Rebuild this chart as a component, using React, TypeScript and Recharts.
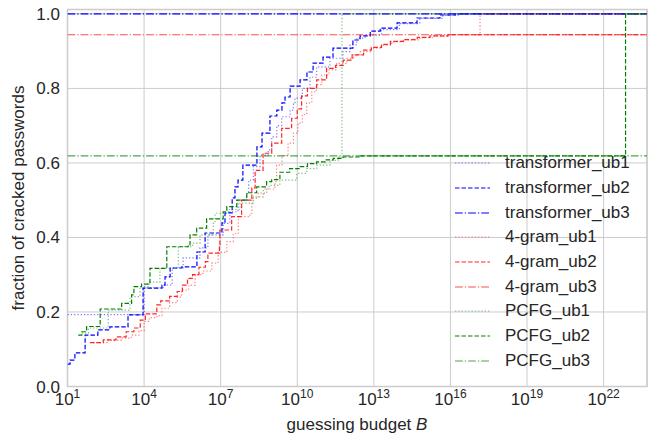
import React from "react";
import { LineChart, Line, XAxis, YAxis, CartesianGrid, ReferenceArea } from "recharts";

// x = log10(guessing budget), y = fraction of cracked passwords
const X_TICKS = [1, 4, 7, 10, 13, 16, 19, 22];
const Y_TICKS = [0, 0.2, 0.4, 0.6, 0.8, 1.0];

const transformerUb1 = [
  [1.0, 0.193], [4.0, 0.265], [4.75, 0.272], [5.1, 0.318], [5.53, 0.345], [6.19, 0.372],
  [6.5, 0.407], [7.1, 0.438], [7.36, 0.469], [7.68, 0.5], [8.02, 0.518], [8.1, 0.554],
  [8.28, 0.59], [8.54, 0.621], [8.86, 0.635], [9.0, 0.67], [9.2, 0.7], [9.39, 0.724],
  [9.72, 0.742], [9.85, 0.76], [9.91, 0.774], [10.2, 0.8], [10.5, 0.83], [10.76, 0.858],
  [11.28, 0.881], [11.79, 0.899], [12.07, 0.917], [12.33, 0.935], [12.66, 0.943],
  [13.3, 0.958], [14.0, 0.974], [14.8, 0.988], [15.7, 0.996], [16.3, 1.0], [23.7, 1.0],
];
const transformerUb2 = [
  [1.0, 0.06], [1.1, 0.071], [1.29, 0.09], [1.69, 0.138], [2.19, 0.152], [2.66, 0.16],
  [3.37, 0.192], [3.96, 0.264], [4.7, 0.272], [4.82, 0.294], [5.02, 0.318], [5.48, 0.321],
  [6.07, 0.361], [6.39, 0.412], [7.05, 0.439], [7.17, 0.466], [7.45, 0.506], [7.56, 0.536],
  [7.68, 0.554], [7.87, 0.594], [8.42, 0.643], [8.62, 0.68], [8.93, 0.726], [9.2, 0.742],
  [9.4, 0.761], [9.52, 0.777], [9.72, 0.806], [10.11, 0.823], [10.38, 0.844], [10.62, 0.868],
  [11.01, 0.884], [11.4, 0.908], [12.18, 0.93], [12.46, 0.941], [12.86, 0.954], [13.25, 0.962],
  [13.91, 0.976], [14.69, 0.989], [15.59, 0.997], [16.18, 1.0], [23.7, 1.0],
];
const transformerUb3 = [[1.0, 1.0], [23.7, 1.0]];

const gram4Ub1 = [
  [2.0, 0.118], [2.6, 0.124], [3.1, 0.13], [3.5, 0.138], [3.8, 0.15], [4.0, 0.175],
  [4.2, 0.185], [4.5, 0.19], [4.7, 0.21], [5.0, 0.225], [5.3, 0.24], [5.47, 0.259],
  [5.75, 0.272], [6.0, 0.3], [6.3, 0.31], [6.65, 0.331], [6.9, 0.36], [7.24, 0.389],
  [7.49, 0.41], [7.69, 0.456], [8.15, 0.465], [8.22, 0.505], [8.47, 0.519], [8.8, 0.53],
  [9.13, 0.55], [9.19, 0.594], [9.4, 0.62], [9.64, 0.653], [9.85, 0.68], [10.03, 0.707],
  [10.2, 0.73], [10.37, 0.761], [10.57, 0.791], [10.75, 0.81], [10.96, 0.836], [11.25, 0.85],
  [11.54, 0.867], [11.94, 0.881], [12.2, 0.89], [12.46, 0.899], [12.9, 0.908], [13.3, 0.916],
  [13.7, 0.925], [14.2, 0.93], [14.8, 0.936], [15.3, 0.94], [15.9, 0.944], [17.16, 1.0], [23.7, 1.0],
];
const gram4Ub2 = [
  [1.88, 0.118], [2.4, 0.125], [2.9, 0.133], [3.3, 0.147], [3.6, 0.157], [3.85, 0.178],
  [4.05, 0.195], [4.5, 0.219], [4.65, 0.23], [5.0, 0.242], [5.3, 0.255], [5.5, 0.272],
  [5.7, 0.29], [5.9, 0.3], [6.15, 0.32], [6.4, 0.335], [6.5, 0.358], [6.95, 0.375],
  [6.97, 0.42], [7.43, 0.456], [7.82, 0.5], [8.22, 0.533], [8.35, 0.58], [8.66, 0.626],
  [9.0, 0.653], [9.39, 0.693], [9.78, 0.72], [10.0, 0.745], [10.17, 0.78], [10.4, 0.8],
  [10.76, 0.823], [11.15, 0.854], [11.5, 0.862], [11.8, 0.876], [12.15, 0.89], [12.6, 0.903],
  [12.9, 0.91], [13.3, 0.918], [13.65, 0.926], [14.15, 0.931], [14.7, 0.937], [15.2, 0.941],
  [15.9, 0.944], [23.7, 0.944],
];
const gram4Ub3 = [[1.0, 0.944], [23.7, 0.944]];

const pcfgUb1 = [
  [1.56, 0.143], [1.82, 0.157], [2.6, 0.205], [3.45, 0.241], [3.84, 0.268], [4.2, 0.28],
  [4.62, 0.317], [5.34, 0.375], [5.9, 0.385], [6.19, 0.407], [6.71, 0.438], [6.78, 0.465],
  [7.3, 0.475], [7.76, 0.492], [8.28, 0.509], [8.67, 0.53], [8.9, 0.54], [9.32, 0.554],
  [9.98, 0.572], [10.37, 0.585], [10.76, 0.594], [11.28, 0.607], [11.6, 0.615], [11.75, 1.0],
  [23.7, 1.0],
];
const pcfgUb2 = [
  [1.42, 0.138], [1.56, 0.147], [1.75, 0.161], [2.28, 0.208], [3.12, 0.223], [3.51, 0.246],
  [3.6, 0.268], [3.9, 0.275], [4.23, 0.317], [4.89, 0.375], [5.73, 0.38], [5.8, 0.407],
  [6.06, 0.425], [6.45, 0.45], [7.1, 0.469], [7.24, 0.483], [7.63, 0.5], [8.02, 0.52],
  [8.41, 0.536], [8.8, 0.55], [9.0, 0.555], [9.32, 0.575], [9.7, 0.585], [10.11, 0.59],
  [10.4, 0.598], [10.76, 0.603], [11.1, 0.608], [11.41, 0.612], [11.8, 0.616], [12.46, 0.619],
  [22.86, 1.0], [23.7, 1.0],
];
const pcfgUb3 = [[1.0, 0.619], [23.7, 0.619]];

const DOT = "1.3 2";
const DASH = "4.5 2";
const DASHDOT = "7.8 2 1.3 2";

const series = [
  { name: "transformer_ub1", pts: transformerUb1, color: "#0000ff", op: 0.5, dash: DOT },
  { name: "transformer_ub2", pts: transformerUb2, color: "#0000ff", op: 1, dash: DASH },
  { name: "transformer_ub3", pts: transformerUb3, color: "#0000ff", op: 1, dash: DASHDOT },
  { name: "4-gram_ub1", pts: gram4Ub1, color: "#ff0000", op: 0.5, dash: DOT },
  { name: "4-gram_ub2", pts: gram4Ub2, color: "#ff0000", op: 0.85, dash: DASH },
  { name: "4-gram_ub3", pts: gram4Ub3, color: "#ff0000", op: 0.7, dash: DASHDOT },
  { name: "PCFG_ub1", pts: pcfgUb1, color: "#008000", op: 0.5, dash: DOT },
  { name: "PCFG_ub2", pts: pcfgUb2, color: "#008000", op: 1, dash: DASH },
  { name: "PCFG_ub3", pts: pcfgUb3, color: "#008000", op: 0.7, dash: DASHDOT },
];

const FONT = "'Liberation Sans', Arial, sans-serif";
const TEXT = "#262626";
const GRID = "#cccccc";

const PowTick = (props: any) => {
  const { x, y, payload } = props;
  return (
    <text x={x} y={y + 18} textAnchor="middle" fill={TEXT} fontSize={17} fontFamily={FONT}>
      10
      <tspan dy={-7} fontSize={12}>{payload.value}</tspan>
    </text>
  );
};

const FracTick = (props: any) => {
  const { x, y, payload } = props;
  return (
    <text x={x} y={y + 6} textAnchor="end" fill={TEXT} fontSize={17} fontFamily={FONT}>
      {payload.value.toFixed(1)}
    </text>
  );
};

const Legend = () => (
  <div style={{ position: "absolute", left: 452, top: 151, fontFamily: FONT, fontSize: 17, color: TEXT }}>
    {series.map((s) => (
      <div key={s.name} style={{ display: "flex", alignItems: "center", height: 24.7 }}>
        <svg width={42} height={10} style={{ marginRight: 11 }}>
          <line x1={3} y1={5} x2={38} y2={5} stroke={s.color} strokeOpacity={s.op}
            strokeWidth={1.2} strokeDasharray={s.dash} />
        </svg>
        <span>{s.name}</span>
      </div>
    ))}
  </div>
);

export default function App() {
  return (
    <div style={{ position: "absolute", left: 0, top: 0, width: 655, height: 440, background: "#fff" }}>
      <LineChart width={655} height={440} margin={{ top: 9.5, right: 8, left: 0, bottom: 0 }}>
        <CartesianGrid stroke={GRID} strokeWidth={1} />
        <XAxis type="number" dataKey="x" domain={[1, 23.7]} ticks={X_TICKS} allowDataOverflow
          tickLine={false} axisLine={false} tick={<PowTick />} height={53.5} tickSize={0} tickMargin={0}
          label={{
            content: () => (
              <text x={357} y={430} textAnchor="middle" fill={TEXT} fontSize={17} fontFamily={FONT}>
                guessing budget <tspan fontStyle="italic">B</tspan>
              </text>
            ),
          }} />
        <YAxis type="number" dataKey="y" domain={[0, 1.0118]} ticks={Y_TICKS} allowDataOverflow
          tickLine={false} axisLine={false} tick={<FracTick />} width={67.5} tickSize={0} tickMargin={7.5}
          label={{
            content: () => (
              <text x={24} y={198} textAnchor="middle" fill={TEXT} fontSize={17} fontFamily={FONT}
                transform="rotate(-90 24 198)">
                fraction of cracked passwords
              </text>
            ),
          }} />
        <ReferenceArea x1={1} x2={23.7} y1={0} y2={1.0118} fill="none" stroke={GRID} strokeWidth={1.5} ifOverflow="visible" />
        {series.map((s) => (
          <Line key={s.name} name={s.name} data={s.pts.map(([x, y]) => ({ x, y }))} dataKey="y"
            type="stepAfter" stroke={s.color} strokeOpacity={s.op} strokeWidth={1.2}
            strokeDasharray={s.dash} dot={false} activeDot={false} isAnimationActive={false} />
        ))}
      </LineChart>
      <Legend />
    </div>
  );
}
